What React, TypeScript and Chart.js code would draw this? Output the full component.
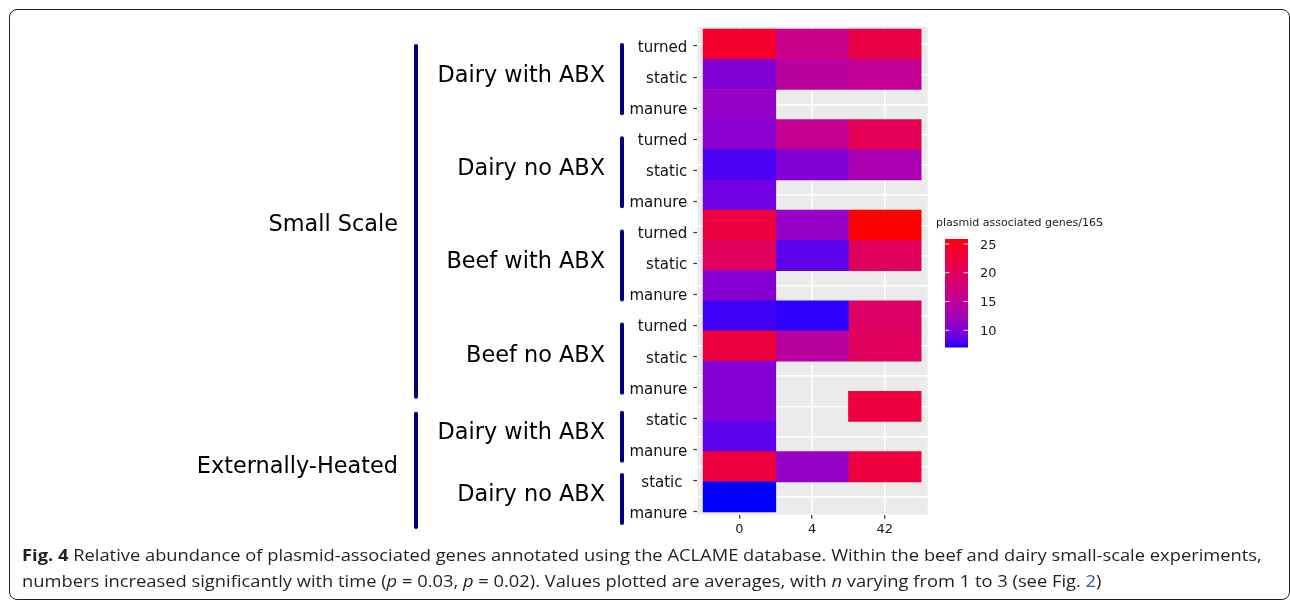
import React, { useEffect, useLayoutEffect, useRef, useState } from "react";
import { Chart, registerables } from "chart.js";

Chart.register(...registerables);

// ---------------- data ----------------
const dayLabels = ["0", "4", "42"];
const rowLabels = [
  "turned", "static", "manure",
  "turned", "static", "manure",
  "turned", "static", "manure",
  "turned", "static", "manure",
  "static", "manure",
  "static ", "manure",
];
const groupLabels = [
  "Dairy with ABX", "Dairy no ABX", "Beef with ABX", "Beef no ABX",
  "Dairy with ABX", "Dairy no ABX",
];
const groupSizes = [3, 3, 3, 3, 2, 2];
const scaleLabels = ["Small Scale", "Externally-Heated"];
const scaleGroupCounts = [4, 2];

const valuesDay0 = [23.8, 10.2, 11.4, 10.6, 8.0, 9.3, 22.5, 20.0, 10.3, 7.7, 22.5, 10.3, 10.3, 8.5, 22.5, 7.04];
const valuesDay4 = [16.5, 14.6, null, 15.7, 10.2, null, 11.4, 8.5, null, 7.4, 14.6, null, null, null, 11.4, null];
const valuesDay42 = [22.0, 15.5, null, 20.6, 13.1, null, 25.87, 20.0, null, 19.5, 20.0, null, 22.5, null, 22.5, null];

const legendTitle = "plasmid associated genes/16S";
const legendTicks = [10, 15, 20, 25];

// ---------------- colour (CIELAB interpolation, blue -> red) ----------------
function toLin(c: number) {
  c /= 255;
  return c <= 0.04045 ? c / 12.92 : Math.pow((c + 0.055) / 1.055, 2.4);
}
function fromLin(c: number) {
  const v = c <= 0.0031308 ? 12.92 * c : 1.055 * Math.pow(Math.max(c, 0), 1 / 2.4) - 0.055;
  return Math.round(Math.max(0, Math.min(1, v)) * 255);
}
const WX = 0.95047, WY = 1, WZ = 1.08883;
function rgbToLab(rgb: number[]) {
  const [r, g, b] = rgb.map(toLin);
  const X = (0.4124564 * r + 0.3575761 * g + 0.1804375 * b) / WX;
  const Y = (0.2126729 * r + 0.7151522 * g + 0.072175 * b) / WY;
  const Z = (0.0193339 * r + 0.119192 * g + 0.9503041 * b) / WZ;
  const f = (t: number) => (t > 216 / 24389 ? Math.cbrt(t) : ((24389 / 27) * t + 16) / 116);
  const fx = f(X), fy = f(Y), fz = f(Z);
  return [116 * fy - 16, 500 * (fx - fy), 200 * (fy - fz)];
}
function labToRgb(lab: number[]) {
  const [L, a, b] = lab;
  const fy = (L + 16) / 116, fx = fy + a / 500, fz = fy - b / 200;
  const finv = (t: number) => (t * t * t > 216 / 24389 ? t * t * t : (116 * t - 16) / (24389 / 27));
  const X = finv(fx) * WX, Y = finv(fy) * WY, Z = finv(fz) * WZ;
  const r = 3.2404542 * X - 1.5371385 * Y - 0.4985314 * Z;
  const g = -0.969266 * X + 1.8760108 * Y + 0.041556 * Z;
  const bb = 0.0556434 * X - 0.2040259 * Y + 1.0572252 * Z;
  return [fromLin(r), fromLin(g), fromLin(bb)];
}
const LAB_LOW = rgbToLab([0, 0, 255]);
const LAB_HIGH = rgbToLab([255, 0, 0]);

const allValues = [...valuesDay0, ...valuesDay4, ...valuesDay42].filter((v) => v != null) as number[];
const vMin = Math.min(...allValues);
const vMax = Math.max(...allValues);

function fillColor(v: number) {
  const t = Math.max(0, Math.min(1, (v - vMin) / (vMax - vMin)));
  const lab = LAB_LOW.map((l, i) => l + (LAB_HIGH[i] - l) * t);
  const [r, g, b] = labToRgb(lab);
  return `rgb(${r},${g},${b})`;
}

// ---------------- plugins ----------------
const FONT = "'DejaVu Sans', Verdana, sans-serif";

const panelBg = {
  id: "panelBg",
  beforeDraw(chart: any) {
    const { ctx, chartArea: a } = chart;
    ctx.save();
    ctx.fillStyle = "#EBEBEB";
    ctx.fillRect(a.left, a.top, a.right - a.left, a.bottom - a.top);
    ctx.restore();
  },
};

// vertical nudges of the outer labels relative to their bracket centre
const OUTER_LABEL_NUDGE = [2, -5];

const annotations = {
  id: "annotations",
  afterDraw(chart: any) {
    const { ctx, chartArea: a } = chart;
    const y2 = chart.scales.y2;
    ctx.save();

    const innerX = a.left - 75.3;
    const outerX = a.left - 281.3;
    const innerLabelRight = a.left - 92.3;
    const outerLabelRight = a.left - 299.3;
    let row = 0;
    const brackets: { top: number; bottom: number }[] = [];
    groupLabels.forEach((lab, g) => {
      const n = groupSizes[g];
      const p1 = y2.getPixelForValue(row);
      const p2 = y2.getPixelForValue(row + n - 1);
      const top = p1 + (n === 3 ? -3 : -8);
      const bottom = p2 + (n === 3 ? 7 : 13);
      brackets.push({ top, bottom });
      ctx.strokeStyle = "#000080";
      ctx.lineWidth = 4;
      ctx.lineCap = "round";
      ctx.beginPath();
      ctx.moveTo(innerX, top + 2);
      ctx.lineTo(innerX, bottom - 2);
      ctx.stroke();
      ctx.fillStyle = "#000";
      ctx.font = `22.4px ${FONT}`;
      ctx.textAlign = "right";
      ctx.textBaseline = "alphabetic";
      const yc = (p1 + p2) / 2 - 3;
      ctx.fillText(lab, innerLabelRight, yc + 8);
      row += n;
    });

    let gi = 0;
    scaleLabels.forEach((lab, s) => {
      const cnt = scaleGroupCounts[s];
      const top = brackets[gi].top + 1;
      const bottom = brackets[gi + cnt - 1].bottom + 4;
      ctx.strokeStyle = "#000080";
      ctx.lineWidth = 4;
      ctx.lineCap = "round";
      ctx.beginPath();
      ctx.moveTo(outerX, top + 2);
      ctx.lineTo(outerX, bottom - 2);
      ctx.stroke();
      ctx.fillStyle = "#000";
      ctx.font = `22.4px ${FONT}`;
      ctx.textAlign = "right";
      ctx.textBaseline = "alphabetic";
      ctx.fillText(lab, outerLabelRight, (top + bottom) / 2 + 8 + OUTER_LABEL_NUDGE[s]);
      gi += cnt;
    });

    // colour bar legend
    const lx = a.right + 17.3;
    const barW = 23;
    const barTop = 239;
    const barH = 108.3;
    const ppu = barH / (vMax - vMin);
    for (let i = 0; i < Math.ceil(barH); i++) {
      const v = vMax - (i + 0.5) / ppu;
      ctx.fillStyle = fillColor(v);
      ctx.fillRect(lx, barTop + i, barW, Math.min(1.5, barH - i));
    }
    ctx.strokeStyle = "rgba(255,255,255,0.85)";
    ctx.lineWidth = 1;
    ctx.lineCap = "butt";
    ctx.font = `13px ${FONT}`;
    ctx.fillStyle = "#1a1a1a";
    ctx.textAlign = "left";
    ctx.textBaseline = "alphabetic";
    legendTicks.forEach((t) => {
      const y = barTop + (vMax - t) * ppu;
      ctx.beginPath();
      ctx.moveTo(lx, y);
      ctx.lineTo(lx + 4.5, y);
      ctx.moveTo(lx + barW - 4.5, y);
      ctx.lineTo(lx + barW, y);
      ctx.stroke();
      ctx.fillText(String(t), lx + 35, y + 4.7);
    });
    ctx.font = `11px ${FONT}`;
    ctx.fillStyle = "#1a1a1a";
    ctx.fillText(legendTitle, a.right + 8.3, 225.5);

    ctx.restore();
  },
};

// ---------------- component ----------------
const series = [valuesDay0, valuesDay4, valuesDay42];

export default function App() {
  const canvasRef = useRef<HTMLCanvasElement | null>(null);
  const line1Ref = useRef<HTMLDivElement | null>(null);
  const [sx, setSx] = useState(1);

  useLayoutEffect(() => {
    const el = line1Ref.current;
    if (el && el.offsetWidth > 0) setSx(1240 / el.offsetWidth);
  }, []);

  useEffect(() => {
    if (!canvasRef.current) return;
    const rowTicks = (s: any) => {
      s.ticks = rowLabels.map((_, i) => ({ value: i }));
    };
    const datasets = series.map((vals, c) => {
      const pts: any[] = [];
      const cols: string[] = [];
      vals.forEach((v, r) => {
        if (v != null) {
          pts.push({ x: [c - 0.5, c + 0.5], y: r });
          cols.push(fillColor(v));
        }
      });
      return {
        label: dayLabels[c],
        data: pts,
        backgroundColor: cols,
        borderWidth: 0,
        grouped: false,
        categoryPercentage: 1,
        barPercentage: 1,
        xAxisID: "x",
        yAxisID: "y",
      };
    });

    const chart = new Chart(canvasRef.current, {
      type: "bar",
      data: { datasets } as any,
      plugins: [panelBg, annotations] as any,
      options: {
        indexAxis: "y",
        responsive: false,
        animation: false,
        events: [],
        layout: { padding: { left: 0, top: 26.7, right: 362.3, bottom: 46.3 } },
        plugins: { legend: { display: false }, tooltip: { enabled: false } },
        scales: {
          x: {
            type: "linear",
            position: "bottom",
            min: -0.58,
            max: 2.59,
            offset: false,
            afterBuildTicks: (s: any) => {
              s.ticks = dayLabels.map((_, i) => ({ value: i }));
            },
            afterFit: (s: any) => {
              s.height = 40;
            },
            ticks: {
              callback: (_v: any, i: number) => dayLabels[i],
              font: { family: FONT, size: 13 },
              color: "#1a1a1a",
              padding: 3,
              autoSkip: false,
              maxRotation: 0,
            },
            grid: { offset: false, color: "#ffffff", lineWidth: 1.5, drawTicks: true, tickLength: 4, tickColor: "#333333", tickWidth: 1.2 },
            border: { display: false },
          },
          y: {
            type: "linear",
            position: "right",
            reverse: true,
            offset: false,
            min: -0.58,
            max: 15.59,
            afterBuildTicks: rowTicks,
            afterFit: (s: any) => {
              s.width = 0;
            },
            ticks: { display: false },
            grid: { offset: false, color: "#ffffff", lineWidth: 1.5, drawTicks: false },
            border: { display: false },
          },
          y2: {
            type: "linear",
            position: "left",
            reverse: true,
            offset: false,
            min: -0.621,
            max: 15.087,
            afterBuildTicks: rowTicks,
            afterFit: (s: any) => {
              s.width = 697.3;
            },
            ticks: {
              callback: (_v: any, i: number) => rowLabels[i],
              font: { family: FONT, size: 15 },
              color: "#111111",
              padding: 6,
              labelOffset: 2,
              autoSkip: false,
            },
            grid: { offset: false, drawOnChartArea: false, drawTicks: true, tickLength: 4, tickColor: "#333333", tickWidth: 1.2 },
            border: { display: false },
          },
        },
      } as any,
    });
    return () => chart.destroy();
  }, []);

  const captionStyle: React.CSSProperties = {
    position: "absolute",
    left: 22,
    whiteSpace: "nowrap",
    fontFamily: "'Open Sans', 'Liberation Sans', sans-serif",
    fontSize: 16,
    lineHeight: "26px",
    color: "#231f20",
    transformOrigin: "left top",
    transform: `scaleX(${sx})`,
    display: "inline-block",
  };

  return (
    <div style={{ position: "absolute", left: 0, top: 0, width: 1290, height: 601, overflow: "hidden", background: "#fff" }}>
      <canvas ref={canvasRef} width={1290} height={601} style={{ position: "absolute", left: 0, top: 0, display: "block" }} />
      <div
        style={{
          position: "absolute",
          left: 9,
          top: 9,
          width: 1281,
          height: 591,
          border: "1.6px solid #231f20",
          borderRadius: 8,
          boxSizing: "border-box",
          pointerEvents: "none",
        }}
      />
      <div ref={line1Ref} style={{ ...captionStyle, top: 541.5 }}>
        <b>Fig. 4</b> Relative abundance of plasmid-associated genes annotated using the ACLAME database. Within the beef and dairy small-scale experiments,
      </div>
      <div style={{ ...captionStyle, top: 567.5 }}>
        numbers increased significantly with time (<i>p</i> = 0.03, <i>p</i> = 0.02). Values plotted are averages, with <i>n</i> varying from 1 to 3 (see Fig.{" "}
        <span style={{ color: "#2e5aa8" }}>2</span>)
      </div>
    </div>
  );
}
